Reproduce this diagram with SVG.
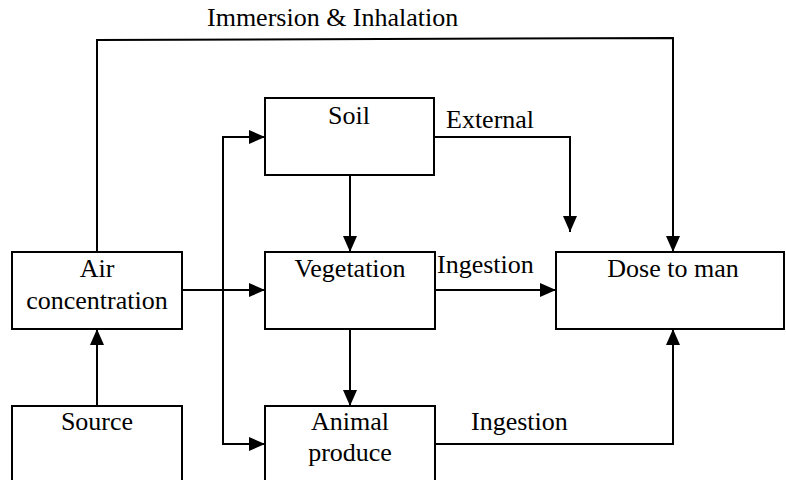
<svg xmlns="http://www.w3.org/2000/svg" width="786" height="480" viewBox="0 0 786 480">
  <style>
    .box { fill: #fff; stroke: #000; stroke-width: 2; }
    .lbl { font-family: "Liberation Serif", "Times New Roman", serif; font-size: 26px; fill: #000; }
    .mid { text-anchor: middle; }
    .wire { fill: none; stroke: #000; stroke-width: 2; }
  </style>
  <defs>
    <marker id="arrow" viewBox="0 0 16 14" refX="16" refY="7" markerWidth="16" markerHeight="14" markerUnits="userSpaceOnUse" orient="auto">
      <path d="M0,0 L16,7 L0,14 Z" fill="#000"/>
    </marker>
  </defs>
  <rect width="786" height="480" fill="#fff"/>

  <g id="connectors">
    <!-- air straight up, across the top, down into dose -->
    <path class="wire" d="M97,252 L97,40 L673,38 L673,252" marker-end="url(#arrow)"/>
    <!-- air to vegetation -->
    <path class="wire" d="M182,290 L265,290" marker-end="url(#arrow)" stroke-width="2.5"/>
    <!-- distribution bus to soil and animal produce -->
    <path class="wire" d="M223,290 L223,137 L265,137" marker-end="url(#arrow)"/>
    <path class="wire" d="M223,290 L223,444 L265,444" marker-end="url(#arrow)"/>
    <!-- soil to vegetation, vegetation to animal -->
    <path class="wire" d="M350,175 L350,252" marker-end="url(#arrow)"/>
    <path class="wire" d="M350,329 L350,406" marker-end="url(#arrow)"/>
    <!-- source to air -->
    <path class="wire" d="M97,406 L97,329" marker-end="url(#arrow)"/>
    <!-- external pathway from soil -->
    <path class="wire" d="M434,137 L570,137 L570,232" marker-end="url(#arrow)"/>
    <!-- ingestion pathways -->
    <path class="wire" d="M435,290 L556,290" marker-end="url(#arrow)"/>
    <path class="wire" d="M435,444 L673,444 L673,329" marker-end="url(#arrow)"/>
  </g>

  <g id="air">
    <rect class="box" x="12" y="252" width="170" height="77"/>
    <text class="lbl mid" x="97" y="277">Air</text>
    <text class="lbl mid" x="97" y="309">concentration</text>
  </g>
  <g id="source">
    <rect class="box" x="12" y="406" width="170" height="90"/>
    <text class="lbl mid" x="97" y="430">Source</text>
  </g>
  <g id="soil">
    <rect class="box" x="265" y="98" width="169" height="77"/>
    <text class="lbl mid" x="349" y="124">Soil</text>
  </g>
  <g id="vegetation">
    <rect class="box" x="265" y="252" width="170" height="77"/>
    <text class="lbl mid" x="350" y="277">Vegetation</text>
  </g>
  <g id="animal">
    <rect class="box" x="265" y="406" width="170" height="90"/>
    <text class="lbl mid" x="350" y="430">Animal</text>
    <text class="lbl mid" x="350" y="461">produce</text>
  </g>
  <g id="dose">
    <rect class="box" x="556" y="252" width="228" height="77"/>
    <text class="lbl mid" x="673" y="277">Dose to man</text>
  </g>

  <g id="labels">
    <text class="lbl" x="207" y="26">Immersion &amp; Inhalation</text>
    <text class="lbl" x="446" y="128">External</text>
    <text class="lbl" x="437" y="273">Ingestion</text>
    <text class="lbl" x="471" y="430">Ingestion</text>
  </g>
</svg>
